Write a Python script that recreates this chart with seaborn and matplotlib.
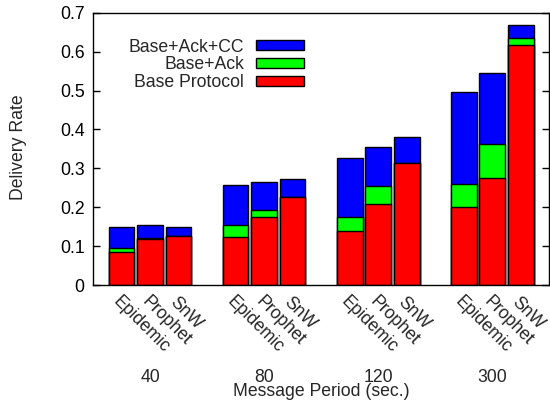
import matplotlib
matplotlib.use("Agg")
import matplotlib.pyplot as plt
from matplotlib.patches import Patch
import numpy as np
import pandas as pd
import seaborn as sns

periods = ["40", "80", "120", "300"]
protocols = ["Epidemic", "Prophet", "SnW"]
# cumulative tops for each stack, order: per period, per protocol
base = [0.086, 0.118, 0.127,
        0.123, 0.174, 0.226,
        0.139, 0.208, 0.313,
        0.201, 0.275, 0.617]
base_ack = [0.094, 0.122, 0.127,
            0.153, 0.193, 0.226,
            0.176, 0.255, 0.313,
            0.259, 0.362, 0.634]
base_ack_cc = [0.150, 0.154, 0.148,
               0.257, 0.264, 0.273,
               0.326, 0.354, 0.381,
               0.496, 0.544, 0.669]
series_names = ["Base+Ack+CC", "Base+Ack", "Base Protocol"]
series_colors = ["#0000ff", "#00ff00", "#ff0000"]

sns.set_theme(style="white")
plt.rcParams["font.family"] = ["Liberation Sans", "DejaVu Sans"]
FS = 12.7

# positions: 3 bars per group + one empty slot
pos = []
labels = []
for gi, p in enumerate(periods):
    for bi, pr in enumerate(protocols):
        pos.append(gi * 4 + bi)
        labels.append(pr)

df = pd.DataFrame({"pos": pos, "label": labels, "base": base,
                   "ack": base_ack, "cc": base_ack_cc})

fig = plt.figure(figsize=(5.5, 4.03), dpi=100)
ax = fig.add_axes([93 / 550, 1 - 285 / 403, (549.3 - 93) / 550, (285 - 12.7) / 403])

for col, c in zip(["cc", "ack", "base"], series_colors):
    sns.barplot(data=df, x="pos", y=col, native_scale=True, color=c,
                edgecolor="black", linewidth=1.0, width=0.9, saturation=1,
                ax=ax, errorbar=None)

ax.set_xlim(-1, 15)
ax.set_ylim(0, 0.7)
ax.set_yticks(np.arange(0, 0.71, 0.1))
ax.set_yticklabels(["0", "0.1", "0.2", "0.3", "0.4", "0.5", "0.6", "0.7"], fontsize=FS)
ax.tick_params(axis="y", direction="in", length=5, width=1, left=True, right=True,
               pad=6, colors="black")
ax.set_xticks(pos)
ax.set_xticklabels(labels, rotation=-45, ha="left", rotation_mode="anchor", fontsize=FS)
ax.tick_params(axis="x", length=0, pad=6)
for s in ax.spines.values():
    s.set_visible(True)
    s.set_color("black")
    s.set_linewidth(1.0)

ax.set_xlabel("")
ax.set_ylabel("")
fig.text(19 / 550, 1 - 147 / 403, "Delivery Rate", rotation=90, ha="center",
         va="center", fontsize=FS)

trans = matplotlib.transforms.blended_transform_factory(ax.transData, fig.transFigure)
for gi, p in enumerate(periods):
    ax.text(gi * 4 + 1, 1 - 382 / 403, p, transform=trans, ha="center", va="baseline",
            fontsize=FS)
fig.text((93 + 549.3) / 2 / 550, 1 - 396 / 403, "Message Period (sec.)", ha="center",
         va="baseline", fontsize=FS)

handles = [Patch(facecolor=c, edgecolor="black", linewidth=1.0) for c in series_colors]
leg = ax.legend(handles, series_names, loc="upper right",
                bbox_to_anchor=((304 - 93) / 456.3, (285 - 38.5) / 272.3),
                frameon=False, markerfirst=False, fontsize=FS, borderpad=0,
                handlelength=2.7, handleheight=0.45, handletextpad=0.7,
                labelspacing=0.05, borderaxespad=0)

fig.savefig("out.png", dpi=100)
